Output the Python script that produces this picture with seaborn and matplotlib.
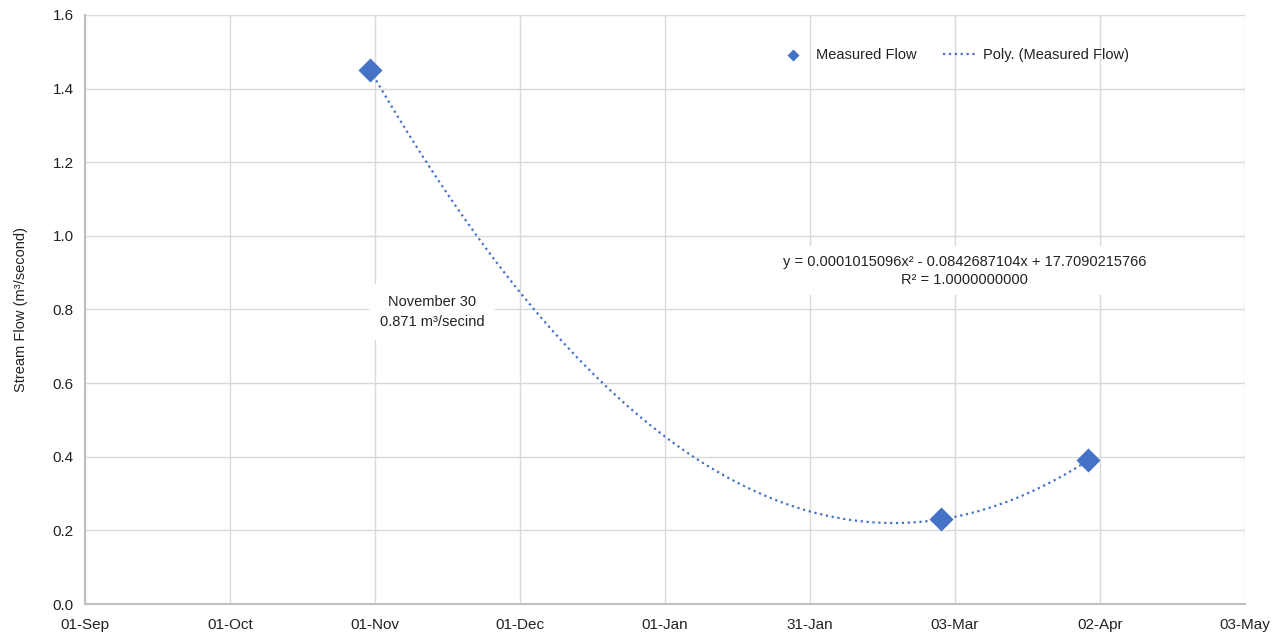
import numpy as np
import pandas as pd
import matplotlib
matplotlib.use("Agg")
import matplotlib.pyplot as plt
import seaborn as sns

# day numbers (Excel-style serial, 305 = 01-Nov)
days = [305, 425, 456]
flow = [1.45, 0.23, 0.39]

tick_days = [245, 275.5, 306, 336.5, 367, 397.5, 428, 458.5, 489]
tick_labels = ['01-Sep', '01-Oct', '01-Nov', '01-Dec', '01-Jan',
               '31-Jan', '03-Mar', '02-Apr', '03-May']

eq_text = 'y = 0.0001015096x\u00b2 - 0.0842687104x + 17.7090215766\nR\u00b2 = 1.0000000000'
note_text = 'November 30\n0.871 m\u00b3/secind'
note_pos = (318, 0.793)
eq_pos = (430, 0.905)

sns.set_theme(style='whitegrid')
plt.rcParams['font.family'] = ['Liberation Sans', 'DejaVu Sans']

blue = '#4472C4'

df = pd.DataFrame({'day': days, 'flow': flow})
coef = np.polyfit(df['day'], df['flow'], 2)
xs = np.linspace(min(days), max(days), 300)
trend = pd.DataFrame({'day': xs, 'flow': np.polyval(coef, xs)})

fig, ax = plt.subplots(figsize=(12.8, 6.35), dpi=100)
fig.subplots_adjust(left=0.0664, right=0.9727, bottom=0.0488, top=0.9764)

sns.lineplot(data=trend, x='day', y='flow', ax=ax, color=blue,
             linestyle=':', linewidth=1.6, label='Poly. (Measured Flow)', zorder=2)
sns.scatterplot(data=df, x='day', y='flow', ax=ax, color=blue, marker='D',
                s=150, edgecolor=blue, linewidth=0, label='Measured Flow', zorder=3)

ax.set_xlim(245, 489)
ax.set_ylim(0, 1.6)
ax.set_xticks(tick_days)
ax.set_xticklabels(tick_labels)
ax.set_yticks(np.arange(0, 1.61, 0.2))
ax.set_yticklabels([f'{v:.1f}' for v in np.arange(0, 1.61, 0.2)])
ax.tick_params(axis='both', labelsize=11, colors='#222222', length=0, pad=8)
ax.tick_params(axis='x', pad=10)
ax.set_xlabel('')
ax.set_ylabel('Stream Flow (m\u00b3/second)', fontsize=10.5, color='#222222', labelpad=18)

ax.grid(True, color='#d9d9d9', linewidth=1)
for s in ['top', 'right']:
    ax.spines[s].set_visible(False)
for s in ['left', 'bottom']:
    ax.spines[s].set_color('#bfbfbf')
    ax.spines[s].set_linewidth(1.5)

ax.text(*eq_pos, eq_text, ha='center', va='center', fontsize=10.5,
        color='#222222', linespacing=1.4,
        bbox=dict(facecolor='white', edgecolor='none', pad=6), zorder=4)
ax.text(*note_pos, note_text, ha='center', va='center', fontsize=10.5,
        color='#222222', linespacing=1.55,
        bbox=dict(facecolor='white', edgecolor='none', pad=8), zorder=4)

handles, labels = ax.get_legend_handles_labels()
order = [labels.index('Measured Flow'), labels.index('Poly. (Measured Flow)')]
leg = ax.legend([handles[i] for i in order], [labels[i] for i in order],
                loc='center', bbox_to_anchor=(0.748, 0.932), ncol=2,
                frameon=False, fontsize=10.5, columnspacing=1.8,
                handlelength=2.2, handletextpad=0.5, markerscale=0.5)
for t in leg.get_texts():
    t.set_color('#222222')

fig.savefig('out.png', dpi=100, facecolor='white')
